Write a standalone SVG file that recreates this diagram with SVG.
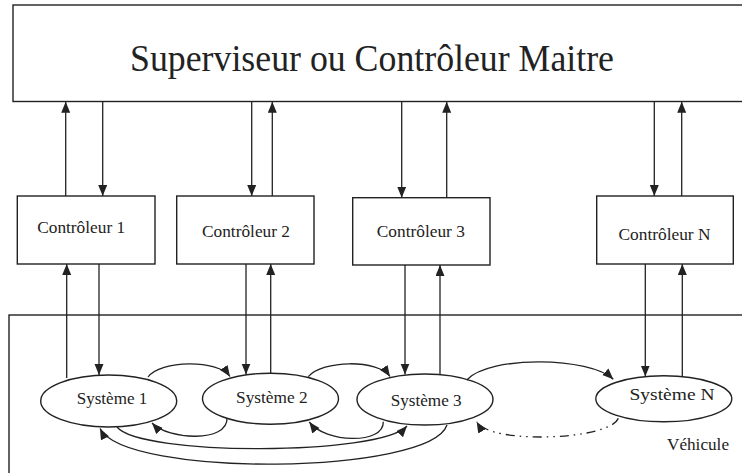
<svg xmlns="http://www.w3.org/2000/svg" width="742" height="473" viewBox="0 0 742 473">
<style>
.box{fill:#fff;stroke:#222;stroke-width:1.4}
.el{fill:#fff;stroke:#222;stroke-width:1.4}
.ln{fill:none;stroke:#222;stroke-width:1.3}
text{font-family:'Liberation Serif','DejaVu Serif',serif;fill:#222;text-anchor:middle}
.a{marker-end:url(#ah)}
.dd{stroke-dasharray:9,5,1.5,5,1.5,5}
</style>
<defs>
<marker id="ah" markerUnits="userSpaceOnUse" markerWidth="12" markerHeight="10" refX="11" refY="4.5" orient="auto">
<path d="M0,0 L11,4.5 L0,9 z" fill="#222"/>
</marker>
</defs>
<rect width="742" height="473" fill="#fff"/>
<g id="vehicule">
<rect class="box" x="9" y="315" width="745" height="170" fill="none"/>
<text x="698" y="450" font-size="17" textLength="62" lengthAdjust="spacingAndGlyphs">Véhicule</text>
</g>
<g id="superviseur">
<rect class="box" x="13" y="5" width="740" height="96.5"/>
<text x="372" y="71" font-size="37" textLength="484" lengthAdjust="spacingAndGlyphs">Superviseur ou Contrôleur Maitre</text>
</g>
<g id="controleur1">
<rect class="box" x="17.3" y="196" width="137.7" height="68"/>
<text x="81.2" y="233" font-size="17" textLength="88" lengthAdjust="spacingAndGlyphs">Contrôleur 1</text>
</g>
<g id="controleur2">
<rect class="box" x="176.7" y="196" width="137.3" height="68"/>
<text x="246" y="236.7" font-size="17" textLength="88" lengthAdjust="spacingAndGlyphs">Contrôleur 2</text>
</g>
<g id="controleur3">
<rect class="box" x="352.7" y="197.7" width="137.3" height="67.3"/>
<text x="420.8" y="236.7" font-size="17" textLength="88" lengthAdjust="spacingAndGlyphs">Contrôleur 3</text>
</g>
<g id="controleurN">
<rect class="box" x="596.7" y="196" width="136.6" height="68"/>
<text x="664.5" y="240" font-size="17" textLength="92" lengthAdjust="spacingAndGlyphs">Contrôleur N</text>
</g>
<g id="systeme1">
<ellipse class="el" cx="108.7" cy="401" rx="68" ry="26"/>
<text x="112" y="404.3" font-size="17" textLength="70.5" lengthAdjust="spacingAndGlyphs">Système 1</text>
</g>
<g id="systeme2">
<ellipse class="el" cx="270.5" cy="398.7" rx="68" ry="25.5"/>
<text x="271.8" y="403.3" font-size="17" textLength="71.5" lengthAdjust="spacingAndGlyphs">Système 2</text>
</g>
<g id="systeme3">
<ellipse class="el" cx="425" cy="399.5" rx="68" ry="25.5"/>
<text x="426.2" y="406" font-size="17" textLength="71" lengthAdjust="spacingAndGlyphs">Système 3</text>
</g>
<g id="systemeN">
<ellipse class="el" cx="663.8" cy="398.8" rx="68" ry="23"/>
<text x="672" y="400" font-size="17" textLength="85" lengthAdjust="spacingAndGlyphs">Système N</text>
</g>
<g id="connectors">
<line class="ln a" x1="65.7" y1="196" x2="65.7" y2="101.7"/>
<line class="ln a" x1="102.7" y1="101.7" x2="102.7" y2="196"/>
<line class="ln a" x1="251.7" y1="101.7" x2="251.7" y2="196"/>
<line class="ln a" x1="272.3" y1="196" x2="272.3" y2="101.7"/>
<line class="ln a" x1="401.7" y1="101.7" x2="401.7" y2="197.7"/>
<line class="ln a" x1="446.7" y1="197.7" x2="446.7" y2="101.7"/>
<line class="ln a" x1="654.3" y1="101.7" x2="654.3" y2="196"/>
<line class="ln a" x1="681.7" y1="196" x2="681.7" y2="101.7"/>
<line class="ln a" x1="66.7" y1="378" x2="66.7" y2="264"/>
<line class="ln a" x1="99" y1="264" x2="99" y2="375"/>
<line class="ln a" x1="246" y1="264" x2="246" y2="374.5"/>
<line class="ln a" x1="270.7" y1="373.2" x2="270.7" y2="264"/>
<line class="ln a" x1="405" y1="265" x2="405" y2="374.5"/>
<line class="ln a" x1="440" y1="374.5" x2="440" y2="265"/>
<line class="ln a" x1="645.3" y1="264" x2="645.3" y2="376.5"/>
<line class="ln a" x1="682.3" y1="376.5" x2="682.3" y2="264"/>
<path class="ln a" d="M148,377 C160,360 218,359 230,376.5"/>
<path class="ln a" d="M227,418 C228,443 168,440 152,423"/>
<path class="ln a" d="M308.3,376.7 C322,360 378,359 390,376.5"/>
<path class="ln a" d="M383.3,421.7 C384,445 325,443 309.3,422"/>
<path class="ln a" d="M117,427 C140,456 380,456 407,426"/>
<path class="ln a" d="M447,425 C430,475 125,478 100,428.5"/>
<path class="ln a" d="M466.7,380 C490,355 590,357 613.3,379.3"/>
<path class="ln a dd" d="M618.3,418.3 C610,440 490,445 476.7,421.7"/>
</g>
</svg>
